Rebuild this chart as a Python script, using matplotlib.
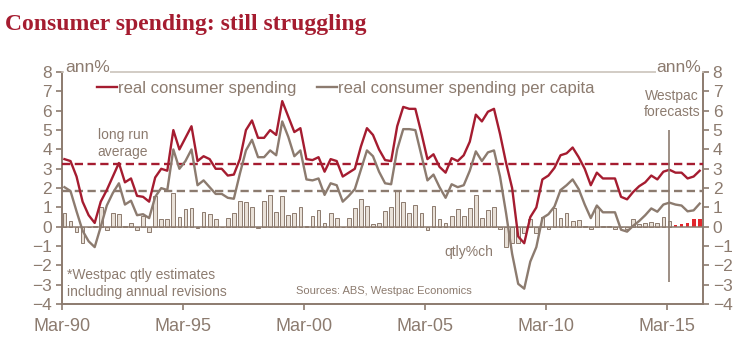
import numpy as np
import matplotlib.pyplot as plt

plt.rcParams['font.family'] = ['Liberation Sans', 'DejaVu Sans']

# quarterly, Mar-90 .. Jun-16 ; last 5 quarters are Westpac forecasts
spending = [3.5, 3.4, 2.6, 1.3, 0.6, 0.2, 1.3, 1.9, 2.6, 3.3,
            2.3, 2.5, 1.6, 1.55, 1.3, 2.55, 3.0, 2.9, 5.0, 4.0,
            4.6, 5.2, 3.4, 3.65, 3.5, 3.0, 3.0, 2.65, 2.7, 3.5,
            5.0, 5.5, 4.6, 4.6, 5.0, 4.75, 6.5, 5.7, 4.9, 5.1,
            3.5, 3.45, 3.6, 2.85, 3.5, 3.4, 2.6, 2.8, 3.0, 4.15,
            5.1, 4.75, 4.0, 3.45, 3.4, 5.2, 6.2, 6.1, 6.1, 4.85,
            3.5, 3.75, 3.1, 2.8, 3.55, 3.4, 3.7, 4.4, 5.8, 5.45,
            5.95, 6.1, 4.8, 3.3, 2.0, -0.5, -0.85, 0.5, 1.0, 2.45,
            2.65, 3.05, 3.7, 3.8, 4.1, 3.6, 3.0, 2.15, 2.8, 2.5,
            2.5, 2.5, 1.55, 1.42, 1.8, 2.1, 2.3, 2.65, 2.45, 2.85,
            2.95, 2.8, 2.8, 2.5, 2.6, 2.9]

per_capita = [2.05, 1.85, 0.8, -0.2, -0.75, -1.05, 0.0, 1.1, 1.75, 2.25,
              1.15, 1.35, 0.6, 0.65, 0.45, 1.55, 2.0, 1.9, 4.0, 3.0,
              3.4, 4.0, 2.15, 2.4, 2.05, 1.7, 1.7, 1.5, 1.45, 2.75,
              3.95, 4.5, 3.6, 3.6, 3.95, 3.7, 5.45, 4.65, 3.65, 3.95,
              2.45, 2.4, 2.5, 1.65, 2.25, 2.15, 1.3, 1.6, 1.95, 2.95,
              3.95, 3.65, 2.85, 2.25, 2.2, 4.0, 5.05, 5.05, 5.0, 3.7,
              2.4, 2.7, 2.05, 1.5, 2.2, 2.05, 2.15, 2.9, 3.9, 3.4,
              3.85, 3.95, 2.6, 0.7, -1.4, -2.95, -3.2, -1.8, -1.05, 0.45,
              0.65, 1.05, 1.9, 2.15, 2.45, 1.95, 1.15, 0.45, 1.1, 0.75,
              0.75, 0.75, -0.15, -0.25, 0.05, 0.3, 0.6, 0.95, 0.78, 1.15,
              1.25, 1.15, 1.1, 0.8, 0.85, 1.2]

qtly = [0.69, 0.31, -0.26, -0.86, -0.03, 0.02, 1.0, -0.15, 0.72, 0.66,
        0.02, 0.21, -0.17, 0.55, -0.28, 1.6, 0.38, 0.38, 1.74, 0.52,
        0.9, 0.95, -0.06, 0.78, 0.66, 0.4, -0.02, 0.48, 0.72, 1.34,
        1.29, 1.0, -0.05, 1.34, 1.64, 0.78, 1.59, 0.6, 0.69, 1.03,
        0.03, 0.55, 0.86, 0.21, 0.69, 0.43, 0.01, 0.43, 0.95, 1.44,
        1.07, 0.17, 0.21, 0.83, 1.03, 1.83, 1.29, 0.72, 1.12, 0.69,
        -0.18, 1.07, 0.38, 0.22, 0.55, 0.9, 0.57, 0.95, 1.66, 0.43,
        0.88, 1.0, -0.09, -1.03, -0.86, -0.86, -0.34, 0.4, -0.31, 0.52,
        -0.12, 0.97, 0.45, 0.69, 0.28, 0.36, 0.02, -0.1, 1.0, 0.02,
        0.02, -0.12, 0.01, -0.12, 0.38, 0.14, 0.22, 0.26, 0.2, 0.5,
        0.3, 0.08, 0.15, 0.2, 0.38, 0.38]

n_actual = 101          # up to Mar-15
avg_spending = 3.25
avg_per_capita = 1.85
tick_labels = ['Mar-90', 'Mar-95', 'Mar-00', 'Mar-05', 'Mar-10', 'Mar-15']

red = '#a51c30'
brown = '#8c7b6f'
beige = '#e9e1d8'
bright_red = '#e2272d'

n = len(spending)
x = np.arange(n) + 0.45

fig = plt.figure(figsize=(7.49, 3.5), dpi=100)
ax = fig.add_axes([0.0824, 0.131, 0.8562, 0.663])

ax.bar(x[:n_actual], qtly[:n_actual], width=0.62, color=beige,
       edgecolor=brown, linewidth=0.7, zorder=2)
ax.bar(x[n_actual:], qtly[n_actual:], width=0.62, color=bright_red,
       linewidth=0, zorder=2)
ax.axhline(0, color=brown, lw=1.1, zorder=2.5)

ax.axhline(avg_spending, color=red, lw=1.7, dashes=(3.5, 1.9), zorder=3)
ax.axhline(avg_per_capita, color=brown, lw=1.7, dashes=(3.5, 1.9), zorder=3)

ax.plot(x, spending, color=red, lw=1.7, zorder=4,
        label='real consumer spending')
ax.plot(x, per_capita, color=brown, lw=1.7, zorder=4,
        label='real consumer spending per capita')

ax.vlines(x[n_actual - 1], -2.85, 5.0, color=brown, lw=1.2, zorder=5)

ax.set_xlim(0, n)
ax.set_ylim(-4, 8)
ax.set_yticks(range(-4, 9))
ax.set_xticks(np.arange(len(tick_labels)) * 20)
ax.set_xticklabels(tick_labels)

ax.tick_params(axis='y', left=True, right=True, labelleft=True,
               labelright=True, direction='out', length=4, width=1.2,
               color=brown, labelcolor=brown, labelsize=12.5, pad=3)
ax.tick_params(axis='x', direction='out', length=4, width=1.2,
               color=brown, labelcolor=brown, labelsize=13, pad=6)

for side in ['left', 'right', 'bottom']:
    ax.spines[side].set_color(brown)
    ax.spines[side].set_linewidth(1.4)
ax.spines['top'].set_color('#cbc3bb')
ax.spines['top'].set_linewidth(1.2)

leg = ax.legend(loc='upper left', bbox_to_anchor=(0.055, 0.962), ncol=2,
                frameon=False, fontsize=12, handlelength=1.2,
                handletextpad=0.05, columnspacing=1.25, borderpad=0,
                borderaxespad=0)
for t in leg.get_texts():
    t.set_color(brown)

ax.text(0.005, 1.0, 'ann%', transform=ax.transAxes, fontsize=12.5,
        color=brown, ha='left', va='baseline', zorder=6,
        bbox=dict(facecolor='white', edgecolor='none', pad=0.5))
ax.text(0.997, 1.0, 'ann%', transform=ax.transAxes, fontsize=12.5,
        color=brown, ha='right', va='baseline', zorder=6,
        bbox=dict(facecolor='white', edgecolor='none', pad=0.5))

ax.text(10.1, 4.3, 'long run\naverage', fontsize=10, color=brown,
        ha='center', va='center', linespacing=1.25)
ax.text(100.9, 6.35, 'Westpac\nforecasts', fontsize=10, color=brown,
        ha='center', va='center', linespacing=1.25)
ax.text(67.3, -1.32, 'qtly%ch', fontsize=10, color=brown,
        ha='center', va='center')
ax.text(0.8, -2.92, '*Westpac qtly estimates\nincluding annual revisions',
        fontsize=10, color=brown, ha='left', va='center', linespacing=1.25)
ax.text(53.2, -3.3, 'Sources: ABS, Westpac Economics', fontsize=8,
        color=brown, ha='center', va='center')

fig.text(0.007, 0.914, 'Consumer spending: still struggling',
         family='Liberation Serif', weight='bold', fontsize=17, color=red,
         ha='left', va='baseline')

fig.savefig('out.png', dpi=100)
